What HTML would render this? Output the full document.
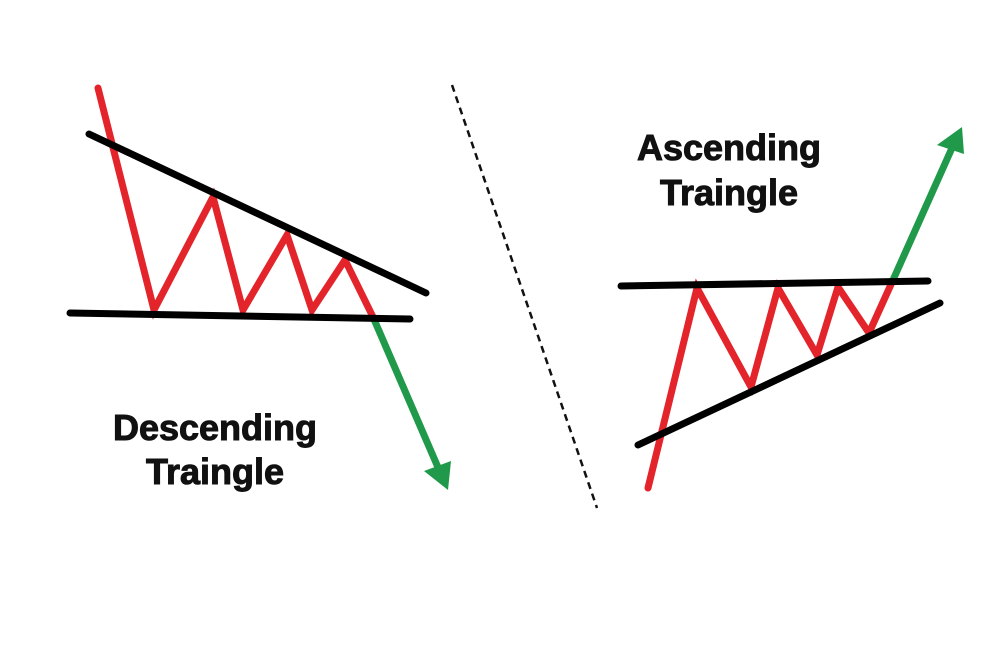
<!DOCTYPE html>
<html><head><style>html,body{margin:0;padding:0;background:#fff}svg{display:block}</style></head>
<body>
<svg width="1000" height="667" viewBox="0 0 1000 667" xmlns="http://www.w3.org/2000/svg">
<rect width="1000" height="667" fill="#fff"/>
<line x1="452" y1="85" x2="597" y2="508" stroke="#111" stroke-width="2.5" stroke-dasharray="7,5"/>
<!-- Descending -->
<polyline points="98,88 154,310 213,197 243,310 287,235 312,310 345,260 373,317" fill="none" stroke="#e3242b" stroke-width="7" stroke-linejoin="miter" stroke-linecap="round"/>
<line x1="373" y1="317" x2="440" y2="472" stroke="#20994a" stroke-width="7"/>
<polygon points="424,471 451,461 448,490" fill="#20994a"/>
<line x1="89" y1="134" x2="426" y2="293" stroke="#000" stroke-width="7" stroke-linecap="round"/>
<line x1="70" y1="313" x2="410" y2="319" stroke="#000" stroke-width="7" stroke-linecap="round"/>
<!-- Ascending -->
<polyline points="648,488 697,288 751,387 778,288 817,355 838,287 869,333 893,280" fill="none" stroke="#e3242b" stroke-width="7" stroke-linejoin="miter" stroke-linecap="round"/>
<line x1="893" y1="280" x2="952" y2="148" stroke="#20994a" stroke-width="7"/>
<polygon points="937,145 962,127 964,154" fill="#20994a"/>
<line x1="621" y1="286" x2="928" y2="281" stroke="#000" stroke-width="7" stroke-linecap="round"/>
<line x1="638" y1="445" x2="940" y2="303" stroke="#000" stroke-width="7" stroke-linecap="round"/>
<g font-family="Liberation Sans, sans-serif" font-weight="bold" font-size="36" fill="#111" stroke="#111" stroke-width="1" text-anchor="middle">
<text x="215" y="440">Descending</text>
<text x="215" y="484">Traingle</text>
<text x="729" y="160">Ascending</text>
<text x="729" y="205">Traingle</text>
</g>
</svg>
</body></html>
